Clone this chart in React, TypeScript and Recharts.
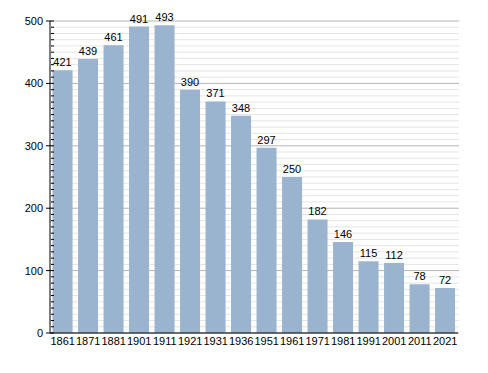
import { BarChart, Bar, XAxis, YAxis, CartesianGrid, LabelList } from 'recharts';

const years = ['1861', '1871', '1881', '1901', '1911', '1921', '1931', '1936', '1951', '1961', '1971', '1981', '1991', '2001', '2011', '2021'];
const population = [421, 439, 461, 491, 493, 390, 371, 348, 297, 250, 182, 146, 115, 112, 78, 72];
const majorTicks = [0, 100, 200, 300, 400, 500];

const data = years.map((year, i) => ({ year, value: population[i] }));
// minor steps of 10 between the labelled ticks
const allTicks = Array.from({ length: 51 }, (_, i) => i * 10);

const font = '"Liberation Sans", Arial, sans-serif';

function YTick({ x, y, payload }: any) {
  const major = majorTicks.includes(payload.value);
  return (
    <g>
      <line x1={x + 6 - (major ? 8 : 3)} y1={y} x2={x + 6} y2={y} stroke="#000" strokeWidth={1} />
      {major && (
        <text x={x - 5} y={y} dy={4} textAnchor="end" fontSize={11} fill="#000" fontFamily={font}>
          {payload.value}
        </text>
      )}
    </g>
  );
}

function GridLine(props: any) {
  const { x1, x2, y1, y2, index } = props;
  const major = index % 10 === 0;
  return <line x1={x1} x2={x2 + 1} y1={y1} y2={y2} stroke={major ? '#b4b4b4' : '#e4e4e4'} strokeWidth={1} />;
}

export default function App() {
  return (
    <div style={{ position: 'absolute', left: 0, top: 0, width: 488, height: 373, background: '#fff' }}>
      <BarChart width={488} height={373} data={data} margin={{ top: 21, right: 30, left: 0, bottom: 0 }} barCategoryGap="10%">
        <CartesianGrid vertical={false} horizontal={GridLine} />
        <XAxis
          dataKey="year"
          height={40}
          stroke="#000"
          tickLine={false}
          tickSize={0}
          interval={0}
          tick={{ fontSize: 11, fill: '#000', fontFamily: font }}
          tickMargin={4}
        />
        <YAxis
          width={50}
          domain={[0, 500]}
          ticks={allTicks}
          interval={0}
          stroke="#000"
          tickLine={false}
          tickSize={0}
          tick={<YTick />}
        />
        <Bar dataKey="value" fill="#9ab3cf" isAnimationActive={false}>
          <LabelList dataKey="value" position="top" offset={4} fontSize={11} fill="#000" fontFamily={font} />
        </Bar>
      </BarChart>
    </div>
  );
}
